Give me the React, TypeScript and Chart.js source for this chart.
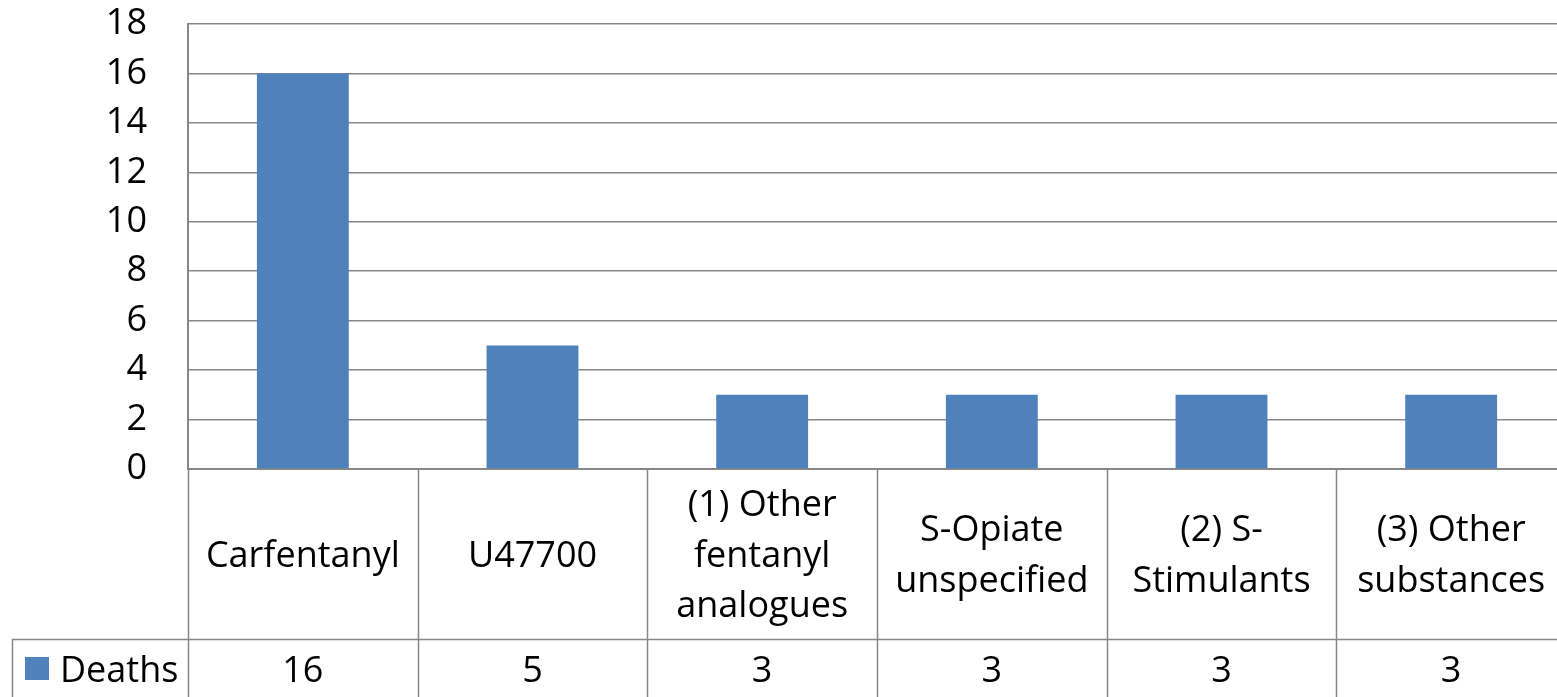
import React, { useEffect, useRef } from "react";
import { Chart, registerables } from "chart.js";

Chart.register(...registerables);

const categories: string[][] = [
  ["Carfentanyl"],
  ["U47700"],
  ["(1) Other", "fentanyl", "analogues"],
  ["S-Opiate", "unspecified"],
  ["(2) S-", "Stimulants"],
  ["(3) Other", "substances"],
];
const deaths: number[] = [16, 5, 3, 3, 3, 3];
const seriesName = "Deaths";
const yTicks: number[] = [0, 2, 4, 6, 8, 10, 12, 14, 16, 18];

const FONT = "'Open Sans', sans-serif";
const BAR = "#4f81bd";
const GRID = "#878787";
const CANVAS_W = 1566;
const VIEW_W = 1557;
const H = 697;

const tablePlugin = {
  id: "dataTable",
  afterDraw(chart: any) {
    const ctx = chart.ctx as CanvasRenderingContext2D;
    const xs = chart.scales.x;
    const area = chart.chartArea;
    const h = chart.height;
    const rowY = 639;
    ctx.save();
    ctx.strokeStyle = GRID;
    ctx.lineWidth = 1.5;
    for (let i = 0; i <= categories.length; i++) {
      const x = Math.round(xs.getPixelForValue(i - 0.5)) + 0.5;
      ctx.beginPath();
      ctx.moveTo(x, area.bottom);
      ctx.lineTo(x, h);
      ctx.stroke();
    }
    ctx.beginPath();
    ctx.moveTo(12, rowY + 0.5);
    ctx.lineTo(chart.width, rowY + 0.5);
    ctx.stroke();
    ctx.beginPath();
    ctx.moveTo(12.5, rowY);
    ctx.lineTo(12.5, h);
    ctx.stroke();
    ctx.fillStyle = BAR;
    ctx.fillRect(25, 657, 24, 23);
    ctx.fillStyle = "#000";
    ctx.font = `36px ${FONT}`;
    ctx.textBaseline = "alphabetic";
    ctx.textAlign = "left";
    ctx.fillText(seriesName, 60, 682);
    ctx.textAlign = "center";
    deaths.forEach((v, i) => {
      ctx.fillText(String(v), xs.getPixelForValue(i), 682);
    });
    ctx.restore();
  },
};

export default function App() {
  const ref = useRef<HTMLCanvasElement | null>(null);
  useEffect(() => {
    if (!ref.current) return;
    const chart = new Chart(ref.current, {
      type: "bar",
      data: {
        labels: categories as any,
        datasets: [
          {
            label: seriesName,
            data: deaths,
            backgroundColor: BAR,
            borderWidth: 0,
            barPercentage: 0.4,
            categoryPercentage: 1,
          },
        ],
      },
      options: {
        animation: false,
        responsive: false,
        maintainAspectRatio: false,
        layout: { padding: { top: 24, left: 0, right: 0, bottom: 0 } },
        plugins: {
          legend: { display: false },
          tooltip: { enabled: false },
          title: { display: false },
        },
        scales: {
          x: {
            offset: true,
            grid: { display: false },
            border: { display: true, color: GRID, width: 2 },
            ticks: {
              autoSkip: false,
              maxRotation: 0,
              minRotation: 0,
              color: "#000",
              font: { family: FONT, size: 36, lineHeight: 1.4 },
              crossAlign: "center",
              padding: 29,
            },
            afterFit: (s: any) => {
              s.height = 228;
              s.paddingLeft = 0;
              s.paddingRight = 0;
              s.paddingTop = 0;
              s.paddingBottom = 0;
            },
          },
          y: {
            min: 0,
            max: 18,
            afterBuildTicks: (s: any) => {
              s.ticks = yTicks.map((v) => ({ value: v }));
            },
            grid: { color: GRID, lineWidth: 1.5, drawTicks: false },
            border: { display: true, color: GRID, width: 2 },
            ticks: {
              autoSkip: false,
              color: "#000",
              font: { family: FONT, size: 36 },
              padding: 41,
            },
            afterFit: (s: any) => {
              s.width = 188;
              s.paddingTop = 0;
              s.paddingBottom = 0;
              s.paddingLeft = 0;
              s.paddingRight = 0;
            },
          },
        },
      },
      plugins: [tablePlugin],
    });
    return () => chart.destroy();
  }, []);
  return (
    <div style={{ position: "fixed", left: 0, top: 0, width: VIEW_W, height: H, overflow: "hidden", background: "#fff" }}>
      <canvas ref={ref} width={CANVAS_W} height={H} style={{ width: CANVAS_W, height: H, display: "block" }} />
    </div>
  );
}
